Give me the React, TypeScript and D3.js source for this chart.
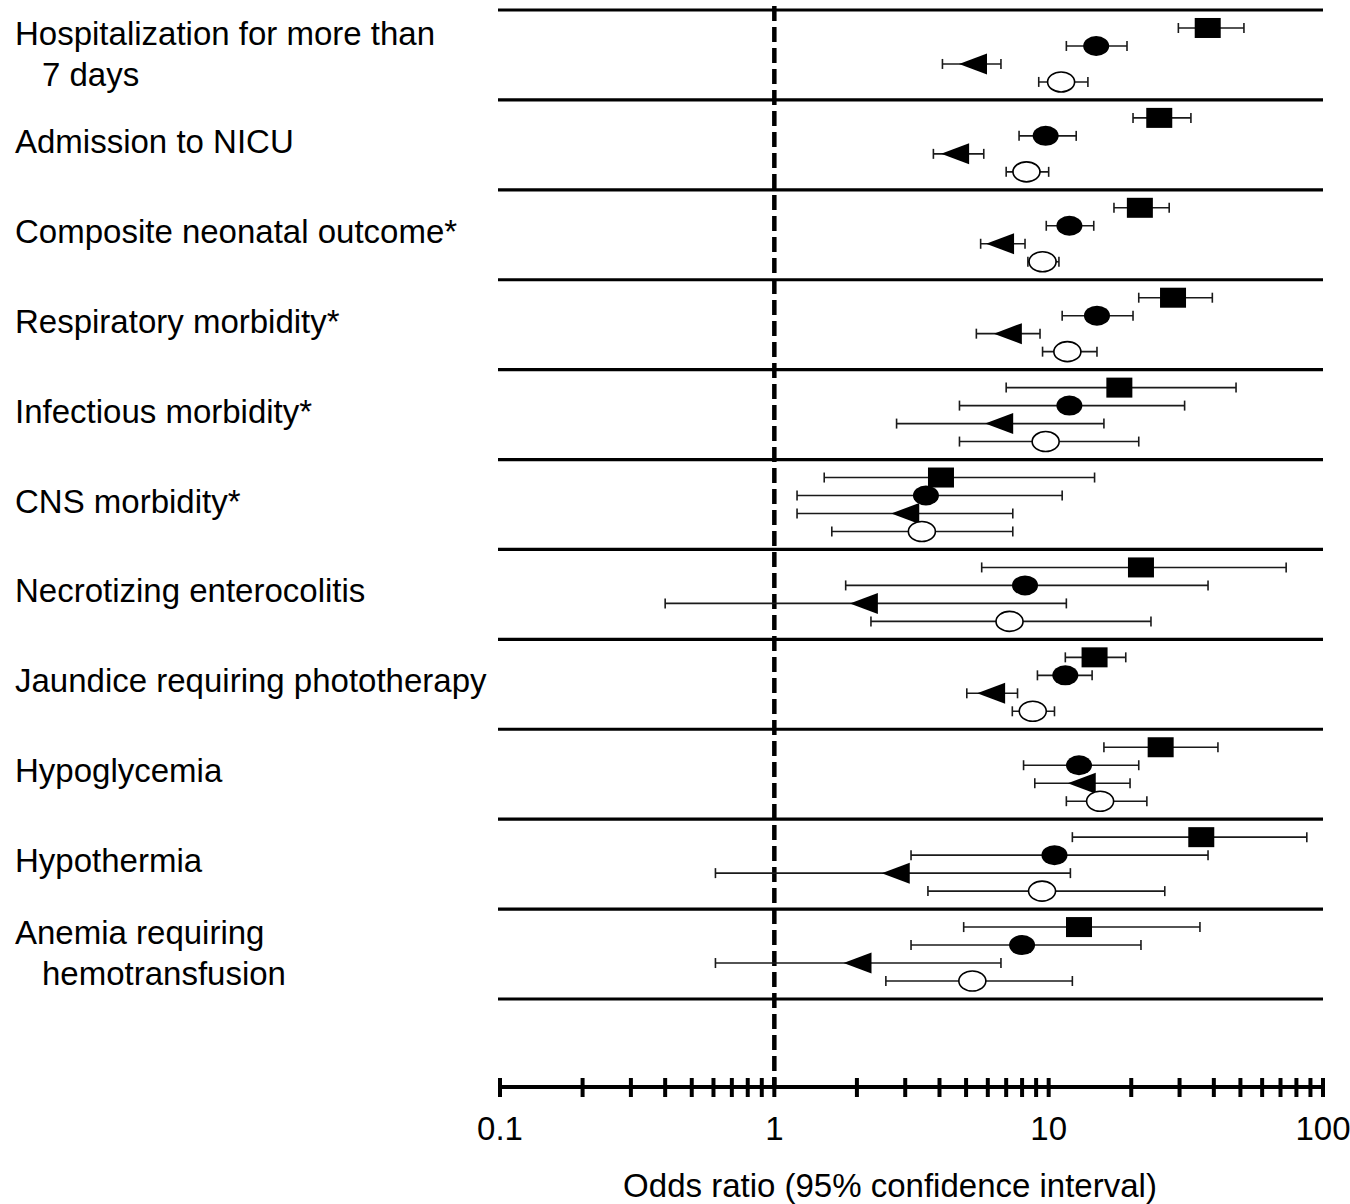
import React from 'react';
import * as d3 from 'd3';

// outcome rows, top to bottom ("\n" = wrapped label)
const categories = [
  'Hospitalization for more than\n7 days',
  'Admission to NICU',
  'Composite neonatal outcome*',
  'Respiratory morbidity*',
  'Infectious morbidity*',
  'CNS morbidity*',
  'Necrotizing enterocolitis',
  'Jaundice requiring phototherapy',
  'Hypoglycemia',
  'Hypothermia',
  'Anemia requiring\nhemotransfusion',
];

// [odds ratio, lower 95% CI, upper 95% CI] per row
const squareSeries = [
  [38, 29.7, 51.5], [25.3, 20.3, 33], [21.5, 17.3, 27.5], [28.4, 21.3, 39.5],
  [18.1, 7.0, 48.2], [4.05, 1.52, 14.7], [21.7, 5.7, 73.4], [14.7, 11.5, 19.1],
  [25.6, 15.9, 41.4], [36, 12.2, 87.3], [12.9, 4.9, 35.6],
];
const filledCircleSeries = [
  [14.9, 11.6, 19.3], [9.75, 7.8, 12.6], [11.9, 9.8, 14.6], [15, 11.2, 20.3],
  [11.9, 4.73, 31.3], [3.57, 1.21, 11.2], [8.2, 1.82, 38.1], [11.5, 9.1, 14.4],
  [12.9, 8.1, 21.3], [10.5, 3.15, 38.1], [8.0, 3.15, 21.7],
];
const triangleSeries = [
  [5.3, 4.1, 6.7], [4.56, 3.8, 5.8], [6.65, 5.65, 8.2], [7.1, 5.45, 9.3],
  [6.6, 2.79, 15.9], [3.0, 1.21, 7.4], [2.12, 0.4, 11.6], [6.17, 5.03, 7.7],
  [13.2, 8.9, 19.8], [2.77, 0.61, 12], [2.01, 0.61, 6.7],
];
const openCircleSeries = [
  [11.1, 9.2, 13.9], [8.3, 7.0, 10], [9.5, 8.4, 10.9], [11.7, 9.5, 15],
  [9.75, 4.73, 21.3], [3.45, 1.62, 7.4], [7.2, 2.25, 23.6], [8.75, 7.37, 10.5],
  [15.4, 11.6, 22.8], [9.46, 3.63, 26.5], [5.27, 2.55, 12.2],
];

const seriesKeys = ['square', 'filledCircle', 'triangle', 'openCircle'];
const seriesData: Record<string, number[][]> = {
  square: squareSeries,
  filledCircle: filledCircleSeries,
  triangle: triangleSeries,
  openCircle: openCircleSeries,
};

const majorTicks = [0.1, 1, 10, 100];
const axisTitle = 'Odds ratio (95% confidence interval)';

const W = 1350;
const H = 1204;
const FONT = '"Liberation Sans", Arial, Helvetica, sans-serif';

const Marker: React.FC<{ kind: string; cx: number; cy: number }> = ({ kind, cx, cy }) => {
  if (kind === 'square') return <rect x={cx - 13} y={cy - 10} width={26} height={20} fill="#000" />;
  if (kind === 'filledCircle') return <ellipse cx={cx} cy={cy} rx={13} ry={10} fill="#000" />;
  if (kind === 'triangle') {
    const p = d3.path();
    p.moveTo(cx - 14, cy);
    p.lineTo(cx + 14, cy - 10.5);
    p.lineTo(cx + 14, cy + 10.5);
    p.closePath();
    return <path d={p.toString()} fill="#000" />;
  }
  return <ellipse cx={cx} cy={cy} rx={13.5} ry={10} fill="#fff" stroke="#000" strokeWidth={1.6} />;
};

export default function App() {
  const x = d3.scaleLog().domain([0.1, 100]).range([500, 1323]);
  const y = d3.scaleBand<string>().domain(categories).range([10, 999]).paddingInner(0);
  const bw = y.bandwidth();
  const inner = d3.scalePoint<string>().domain(seriesKeys).range([0.2 * bw, 0.8 * bw]);

  const axisY = 1087;
  const lineYs = categories.map((c) => y(c) as number).concat([y.range()[1]]);

  return (
    <svg width={W} height={H} style={{ position: 'absolute', left: 0, top: 0, background: '#fff' }} fontFamily={FONT}>
      <rect width={W} height={H} fill="#fff" />

      {/* row labels */}
      {categories.map((c) => {
        const lines = c.split('\n');
        const mid = (y(c) as number) + bw / 2;
        return (
          <text key={c} fontSize={33} fill="#000">
            {lines.length === 1 ? (
              <tspan x={15} y={mid + 8}>{lines[0]}</tspan>
            ) : (
              <>
                <tspan x={15} y={mid - 10}>{lines[0]}</tspan>
                <tspan x={42} y={mid + 31}>{lines[1]}</tspan>
              </>
            )}
          </text>
        );
      })}

      {/* row separators */}
      {lineYs.map((ly, i) => (
        <line key={i} x1={x.range()[0] - 2} x2={x.range()[1]} y1={ly} y2={ly} stroke="#000" strokeWidth={3.2} />
      ))}

      {/* reference line at OR = 1 */}
      <line x1={x(1)} x2={x(1)} y1={6} y2={axisY} stroke="#000" strokeWidth={4.5} strokeDasharray="15,6" />

      {/* error bars + markers */}
      {categories.map((c, ri) => (
        <g key={c}>
          {seriesKeys.map((k) => {
            const [or, lo, hi] = seriesData[k][ri];
            const cy = (y(c) as number) + (inner(k) as number);
            return (
              <g key={k}>
                <line x1={x(lo)} x2={x(hi)} y1={cy} y2={cy} stroke="#1a1a1a" strokeWidth={1.6} />
                <line x1={x(lo)} x2={x(lo)} y1={cy - 5} y2={cy + 5} stroke="#1a1a1a" strokeWidth={1.6} />
                <line x1={x(hi)} x2={x(hi)} y1={cy - 5} y2={cy + 5} stroke="#1a1a1a" strokeWidth={1.6} />
                <Marker kind={k} cx={x(or)} cy={cy} />
              </g>
            );
          })}
        </g>
      ))}

      {/* x axis */}
      <line x1={x.range()[0]} x2={x.range()[1]} y1={axisY} y2={axisY} stroke="#000" strokeWidth={4} />
      {x.ticks().map((t) => (
        <line key={t} x1={x(t)} x2={x(t)} y1={axisY - 9} y2={axisY + 10} stroke="#000" strokeWidth={4} />
      ))}
      {majorTicks.map((t) => (
        <text key={t} x={x(t)} y={1140} fontSize={33} textAnchor="middle" fill="#000">
          {String(t)}
        </text>
      ))}
      <text x={890} y={1197} fontSize={33} textAnchor="middle" fill="#000">
        {axisTitle}
      </text>
    </svg>
  );
}
